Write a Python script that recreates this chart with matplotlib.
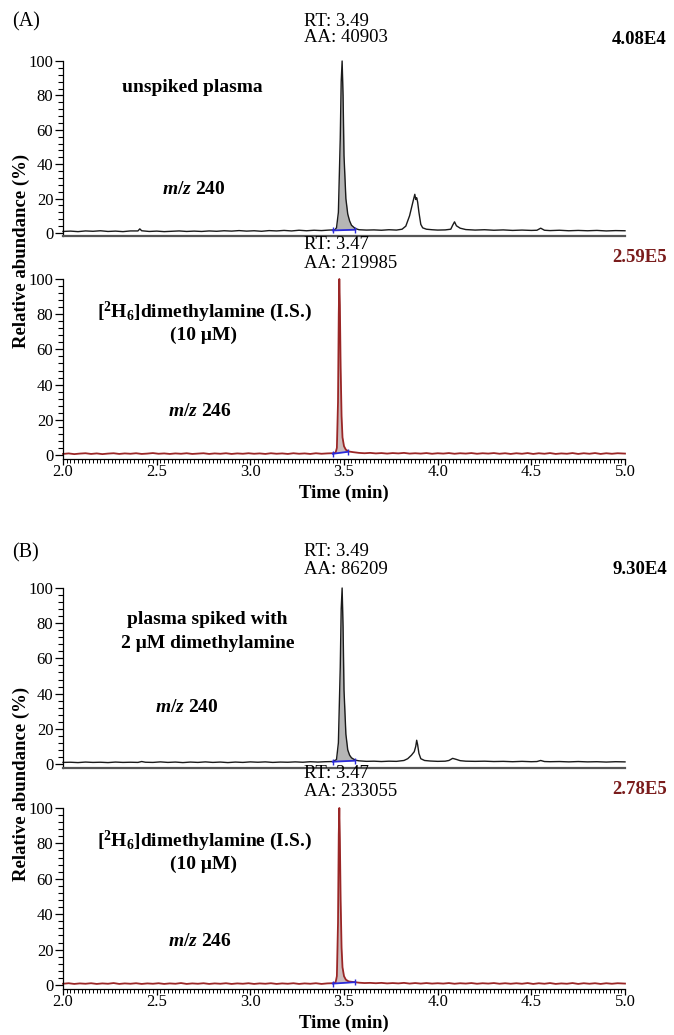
import numpy as np
import matplotlib
matplotlib.use('Agg')
import matplotlib.pyplot as plt
from matplotlib.ticker import MultipleLocator, FormatStrFormatter

plt.rcParams['font.family'] = ['Liberation Serif', 'DejaVu Serif']
plt.rcParams['mathtext.fontset'] = 'custom'
plt.rcParams['mathtext.rm'] = 'Liberation Serif:bold'
plt.rcParams['mathtext.it'] = 'Liberation Serif:italic:bold'
plt.rcParams['mathtext.bf'] = 'Liberation Serif:bold'

# ---------------- data (time in min, relative abundance in %) ----------------
A1_trace = [(2.00,0.9),(2.04,1.1),(2.08,0.8),(2.12,1.2),(2.16,1.0),(2.20,1.3),(2.24,0.9),(2.28,1.1),
            (2.32,0.8),(2.36,1.2),(2.40,1.2),(2.41,2.4),(2.42,1.3),(2.46,0.9),(2.50,1.1),(2.54,0.8),
            (2.58,1.0),(2.62,1.2),(2.66,0.9),(2.70,1.1),(2.74,0.9),(2.78,1.2),(2.82,1.0),(2.86,1.3),
            (2.90,1.1),(2.94,1.4),(2.98,1.1),(3.02,1.3),(3.06,1.0),(3.10,1.4),(3.14,1.2),(3.18,1.5),
            (3.22,1.2),(3.26,1.6),(3.30,1.3),(3.34,1.6),(3.38,1.4),(3.42,1.7),(3.45,1.8),(3.46,3.0),
            (3.47,12),(3.48,55),(3.485,88),(3.49,100),(3.495,80),(3.50,45),(3.51,20),(3.52,11),
            (3.53,7),(3.54,4.5),(3.56,2.6),(3.58,1.9),(3.62,1.7),(3.66,1.8),(3.70,1.6),(3.74,1.9),
            (3.78,1.7),(3.81,2.2),(3.83,4.0),(3.85,10),(3.87,19),(3.878,22.5),(3.883,19.5),(3.888,20.5),
            (3.893,18),(3.90,12),(3.91,5),(3.92,3),(3.94,2.2),(3.97,1.9),(4.00,1.7),(4.04,1.8),
            (4.07,2.2),(4.08,4.5),(4.09,6.5),(4.10,4.2),(4.12,2.8),(4.15,2.0),(4.20,1.7),(4.25,1.9),
            (4.30,1.6),(4.35,1.8),(4.40,1.5),(4.45,1.7),(4.50,1.5),(4.53,1.6),(4.55,2.8),(4.57,1.6),
            (4.60,1.4),(4.65,1.6),(4.70,1.3),(4.75,1.5),(4.80,1.3),(4.85,1.5),(4.90,1.2),(4.95,1.4),
            (5.00,1.3)]

A2_trace = [(2.00,0.6),(2.03,0.9),(2.06,0.5),(2.09,0.8),(2.12,1.0),(2.15,0.6),(2.18,0.9),(2.21,0.5),
            (2.24,0.8),(2.27,1.0),(2.30,0.6),(2.33,0.9),(2.36,0.7),(2.39,1.0),(2.42,0.6),(2.45,0.8),
            (2.48,1.1),(2.51,0.7),(2.54,0.9),(2.57,0.6),(2.60,0.9),(2.63,0.7),(2.66,1.0),(2.69,0.6),
            (2.72,0.8),(2.75,1.0),(2.78,0.6),(2.81,0.9),(2.84,0.7),(2.87,1.0),(2.90,0.6),(2.93,0.9),
            (2.96,0.7),(2.99,1.0),(3.02,0.7),(3.05,0.9),(3.08,0.6),(3.11,1.0),(3.14,0.7),(3.17,0.9),
            (3.20,0.6),(3.23,1.0),(3.26,0.7),(3.29,0.9),(3.32,0.6),(3.35,1.0),(3.38,0.7),(3.41,0.9),
            (3.44,1.0),(3.455,1.3),(3.462,4),(3.468,30),(3.472,80),(3.475,100),(3.478,85),(3.482,50),
            (3.487,22),(3.492,10),(3.50,5),(3.51,3),(3.525,2),(3.55,1.6),(3.58,1.2),(3.61,1.0),
            (3.64,1.2),(3.67,0.9),(3.70,1.1),(3.73,0.8),(3.76,1.1),(3.79,0.9),(3.82,1.2),(3.85,0.8),
            (3.88,1.0),(3.91,0.8),(3.94,1.1),(3.97,0.7),(4.00,1.0),(4.03,0.8),(4.06,1.1),(4.09,0.7),
            (4.12,1.0),(4.15,0.8),(4.18,1.1),(4.21,0.7),(4.24,1.0),(4.27,0.8),(4.30,1.1),(4.33,0.7),
            (4.36,1.0),(4.39,0.6),(4.42,1.0),(4.45,0.7),(4.48,1.1),(4.51,0.6),(4.54,1.0),(4.57,0.7),
            (4.60,1.1),(4.63,0.6),(4.66,0.9),(4.69,0.7),(4.72,1.1),(4.75,0.6),(4.78,1.0),(4.81,0.7),
            (4.84,1.1),(4.87,0.6),(4.90,1.0),(4.93,0.7),(4.96,1.0),(5.00,0.8)]

B1_trace = [(2.00,0.9),(2.04,1.0),(2.08,0.8),(2.12,1.1),(2.16,0.9),(2.20,1.0),(2.24,0.8),(2.28,1.1),
            (2.32,0.9),(2.36,1.0),(2.40,0.9),(2.42,1.4),(2.44,1.0),(2.48,0.9),(2.52,1.2),(2.56,0.9),
            (2.60,1.1),(2.64,0.8),(2.68,1.1),(2.72,0.9),(2.76,1.2),(2.80,0.9),(2.84,1.1),(2.88,0.8),
            (2.92,1.1),(2.96,0.9),(3.00,1.2),(3.04,1.0),(3.08,1.2),(3.12,0.9),(3.16,1.1),(3.20,1.0),
            (3.24,1.2),(3.28,1.0),(3.32,1.3),(3.36,1.1),(3.40,1.3),(3.44,1.4),(3.46,2.5),(3.47,12),
            (3.48,55),(3.485,88),(3.49,100),(3.495,78),(3.50,42),(3.51,17),(3.52,8),(3.53,5),
            (3.54,3.5),(3.56,2.2),(3.58,1.8),(3.62,1.5),(3.66,1.6),(3.70,1.4),(3.74,1.6),(3.78,1.5),
            (3.82,2.0),(3.84,3.0),(3.86,5.0),(3.875,7.0),(3.883,10),(3.888,13.5),(3.893,11),(3.90,6),
            (3.91,3),(3.93,2),(3.96,1.7),(4.00,1.5),(4.04,1.6),(4.06,2.0),(4.08,3.2),(4.10,2.6),
            (4.12,1.9),(4.15,1.6),(4.20,1.5),(4.25,1.6),(4.30,1.4),(4.35,1.5),(4.40,1.3),(4.45,1.5),
            (4.50,1.3),(4.53,1.4),(4.55,2.0),(4.57,1.4),(4.60,1.3),(4.65,1.4),(4.70,1.2),(4.75,1.4),
            (4.80,1.2),(4.85,1.3),(4.90,1.1),(4.95,1.3),(5.00,1.2)]

B2_trace = [(2.00,0.7),(2.03,1.0),(2.06,0.6),(2.09,0.9),(2.12,0.7),(2.15,1.0),(2.18,0.6),(2.21,0.9),
            (2.24,0.7),(2.27,1.1),(2.30,0.6),(2.33,0.9),(2.36,0.7),(2.39,1.0),(2.42,0.6),(2.45,0.9),
            (2.48,0.7),(2.51,1.0),(2.54,0.6),(2.57,0.9),(2.60,0.7),(2.63,1.1),(2.66,0.6),(2.69,0.9),
            (2.72,0.7),(2.75,1.0),(2.78,0.6),(2.81,0.9),(2.84,0.7),(2.87,1.0),(2.90,0.6),(2.93,0.9),
            (2.96,0.7),(2.99,1.0),(3.02,0.6),(3.05,0.9),(3.08,0.7),(3.11,1.0),(3.14,0.6),(3.17,0.9),
            (3.20,0.7),(3.23,1.0),(3.26,0.6),(3.29,0.9),(3.32,0.7),(3.35,1.0),(3.38,0.6),(3.41,0.9),
            (3.44,1.0),(3.455,1.4),(3.462,5),(3.468,35),(3.472,85),(3.475,100),(3.478,82),(3.482,48),
            (3.487,21),(3.492,10),(3.50,5),(3.51,3),(3.525,2),(3.55,1.7),(3.58,1.3),(3.61,1.1),
            (3.64,1.2),(3.67,1.0),(3.70,1.2),(3.73,0.9),(3.76,1.1),(3.79,0.9),(3.82,1.2),(3.85,0.8),
            (3.88,1.1),(3.91,0.8),(3.94,1.1),(3.97,0.8),(4.00,1.0),(4.03,0.8),(4.06,1.1),(4.09,0.7),
            (4.12,1.0),(4.15,0.8),(4.18,1.1),(4.21,0.7),(4.24,1.0),(4.27,0.8),(4.30,1.1),(4.33,0.7),
            (4.36,1.0),(4.39,0.7),(4.42,1.0),(4.45,0.7),(4.48,1.1),(4.51,0.6),(4.54,1.0),(4.57,0.7),
            (4.60,1.1),(4.63,0.6),(4.66,0.9),(4.69,0.7),(4.72,1.1),(4.75,0.6),(4.78,1.0),(4.81,0.7),
            (4.84,1.0),(4.87,0.6),(4.90,1.0),(4.93,0.7),(4.96,1.0),(5.00,0.8)]

# integration baselines (start, end)
A1_base = [(3.44, 1.5), (3.56, 1.9)]
A2_base = [(3.44, 0.7), (3.52, 1.8)]
B1_base = [(3.44, 1.3), (3.56, 1.9)]
B2_base = [(3.44, 0.8), (3.56, 1.6)]

RT_labels = ["RT: 3.49", "RT: 3.47", "RT: 3.49", "RT: 3.47"]
AA_labels = ["AA: 40903", "AA: 219985", "AA: 86209", "AA: 233055"]
scale_labels = ["4.08E4", "2.59E5", "9.30E4", "2.78E5"]
x_ticks = [2.0, 2.5, 3.0, 3.5, 4.0, 4.5, 5.0]
y_ticks = [0, 20, 40, 60, 80, 100]

# ---------------- figure ----------------
W, H = 674, 1035
fig = plt.figure(figsize=(W / 100, H / 100), dpi=100)
X_LEFT, X_RIGHT = 63, 625
BLACK = '#1a1a1a'
RED = '#9a2626'
DRED = '#7a1c1c'


def add_panel(y100, y0, bottom_axis, ymin=-2.0):
    s = (y0 - y100) / 100.0
    bot = y0 - ymin * s
    ax = fig.add_axes([X_LEFT / W, 1 - bot / H, (X_RIGHT - X_LEFT) / W, (bot - y100) / H])
    ax.set_xlim(2.0, 5.0)
    ax.set_ylim(ymin, 100)
    ax.patch.set_alpha(0)
    for sp in ['top', 'right']:
        ax.spines[sp].set_visible(False)
    ax.spines['left'].set_linewidth(0.9)
    ax.set_yticks(y_ticks)
    ax.yaxis.set_minor_locator(MultipleLocator(4))
    ax.tick_params(axis='y', which='major', direction='out', length=6, width=0.9,
                   labelsize=12, pad=1)
    ax.tick_params(axis='y', which='minor', direction='out', length=3.5, width=0.8)
    if bottom_axis:
        ax.spines['bottom'].set_linewidth(0.9)
        ax.set_xticks(x_ticks)
        ax.xaxis.set_major_formatter(FormatStrFormatter('%.1f'))
        ax.xaxis.set_minor_locator(MultipleLocator(0.02))
        ax.tick_params(axis='x', which='major', direction='out', length=4, width=0.9,
                       labelsize=12, pad=0)
        ax.tick_params(axis='x', which='minor', direction='out', length=3, width=0.7)
    else:
        ax.spines['bottom'].set_linewidth(1.6)
        ax.spines['bottom'].set_color('#555555')
        ax.set_xticks([])
    return ax


def draw(ax, trace, base, color, fillc, lw):
    t, v = np.array(trace).T
    bt, by = np.array(base).T
    m = (t >= bt[0]) & (t <= bt[1])
    ax.fill_between(t[m], np.interp(t[m], bt, by), v[m], color=fillc, lw=0, zorder=1)
    ax.plot(t, v, color=color, lw=lw, clip_on=False, zorder=2)
    ax.plot(bt, by, color='#2a2ad8', lw=1.3, zorder=3)
    ax.plot(bt, by, ls='none', marker='|', ms=4, color='#2a2ad8', zorder=3)


panels = [
    dict(y100=61, y0=233, bottom=False, trace=A1_trace, base=A1_base, color=BLACK, fill='#b5b5b5', lw=1.0,
         rt=22, aa=38, sc=39, scc='black'),
    dict(y100=279, y0=455, bottom=True, trace=A2_trace, base=A2_base, color=RED, fill='#ccbcbc', lw=1.3,
         rt=245, aa=263, sc=258, scc=DRED),
    dict(y100=588, y0=764, bottom=False, trace=B1_trace, base=B1_base, color=BLACK, fill='#b5b5b5', lw=1.0,
         rt=552, aa=569, sc=570, scc='black'),
    dict(y100=808, y0=985, bottom=True, trace=B2_trace, base=B2_base, color=RED, fill='#ccbcbc', lw=1.3,
         rt=774, aa=792, sc=789, scc=DRED),
]


def ftext(x, y, s, **kw):
    fig.text(x / W, 1 - y / H, s, **kw)


for i, p in enumerate(panels):
    ax = add_panel(p['y100'], p['y0'], p['bottom'])
    draw(ax, p['trace'], p['base'], p['color'], p['fill'], p['lw'])
    ftext(304, p['rt'], RT_labels[i], fontsize=13.5, ha='left', va='center')
    ftext(304, p['aa'], AA_labels[i], fontsize=13.5, ha='left', va='center')
    ftext(667, p['sc'], scale_labels[i], fontsize=13.5, fontweight='bold', ha='right', va='center',
          color=p['scc'])

# panel letters
ftext(12, 22, "(A)", fontsize=14.5, ha='left', va='center')
ftext(12, 553, "(B)", fontsize=14.5, ha='left', va='center')

# annotations
bold = dict(fontsize=14, fontweight='bold', ha='center', va='center')
ftext(192, 88, "unspiked plasma", **bold)
ftext(194, 190, r"$\mathit{m/z}$ 240", **bold)
ftext(204, 312, r"$[^{2}$H$_{6}]$dimethylamine (I.S.)", **bold)
ftext(204, 335, "(10 μM)", **bold)
ftext(200, 412, r"$\mathit{m/z}$ 246", **bold)

ftext(207, 619, "plasma spiked with", **bold)
ftext(208, 643, "2 μM dimethylamine", **bold)
ftext(187, 708, r"$\mathit{m/z}$ 240", **bold)
ftext(204, 841, r"$[^{2}$H$_{6}]$dimethylamine (I.S.)", **bold)
ftext(204, 864, "(10 μM)", **bold)
ftext(200, 941, r"$\mathit{m/z}$ 246", **bold)

# axis labels
ftext(344, 493, "Time (min)", fontsize=13.5, fontweight='bold', ha='center', va='center')
ftext(344, 1023, "Time (min)", fontsize=13.5, fontweight='bold', ha='center', va='center')
ftext(21, 251, "Relative abundance (%)", fontsize=13.5, fontweight='bold', rotation=90,
      ha='center', va='center')
ftext(21, 784, "Relative abundance (%)", fontsize=13.5, fontweight='bold', rotation=90,
      ha='center', va='center')

fig.savefig('out.png', dpi=100)
